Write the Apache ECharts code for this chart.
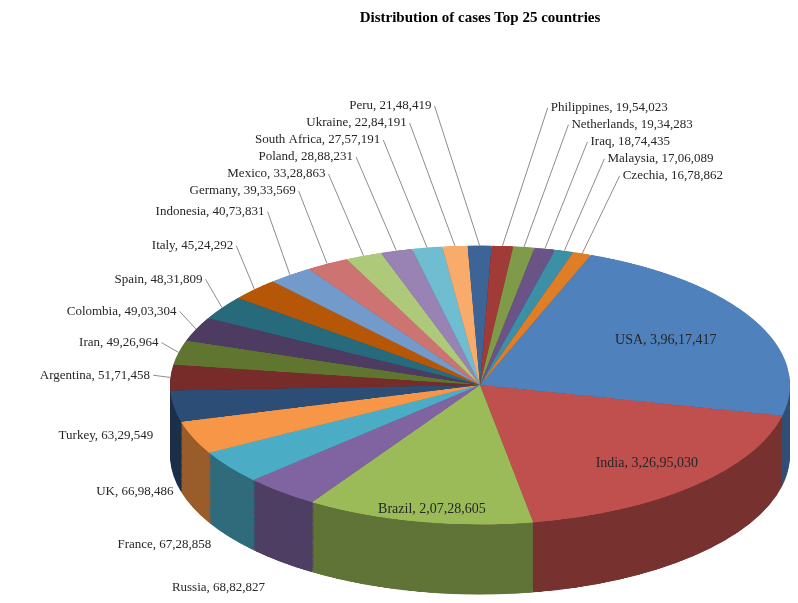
<!DOCTYPE html>
<html>
<head>
<meta charset="utf-8">
<script src="https://cdn.jsdelivr.net/npm/echarts@6/dist/echarts.min.js"></script>
<style>
  html, body { margin: 0; padding: 0; background: #fff; }
  #wrap { position: relative; width: 798px; height: 603px; overflow: hidden; }
  #body { position: absolute; left: 0; top: 0; width: 798px; height: 1340px; transform: scaleY(0.45); transform-origin: 0 0; }
  #labels { position: absolute; left: 0; top: 0; width: 798px; height: 603px; }
</style>
</head>
<body>
<div id="wrap">
  <div id="body"></div>
  <div id="labels"></div>
</div>
<script>
const countries = ["USA", "India", "Brazil", "Russia", "France", "UK", "Turkey", "Argentina", "Iran", "Colombia",
  "Spain", "Italy", "Indonesia", "Germany", "Mexico", "Poland", "South Africa", "Ukraine", "Peru", "Philippines",
  "Netherlands", "Iraq", "Malaysia", "Czechia"];
const cases = [39617417, 32695030, 20728605, 6882827, 6728858, 6698486, 6329549, 5171458, 4926964, 4903304,
  4831809, 4524292, 4073831, 3933569, 3328863, 2888231, 2757191, 2284191, 2148419, 1954023,
  1934283, 1874435, 1706089, 1678862];
const colors = ["#4F81BD", "#C0504D", "#9BBB59", "#8064A2", "#4BACC6", "#F79646", "#2C4D75", "#772C2A", "#5F7530", "#4D3B62",
  "#276A7C", "#B65708", "#729ACA", "#CD7371", "#AFC97A", "#9983B5", "#6FBDD1", "#F9AB6B", "#3C6496", "#A03B38",
  "#7F9A48", "#6A5386", "#3B8FA6", "#E07D27"];

// geometry of the tilted pie (screen px)
const scaleY = 0.45;
const cx = 480, cy = 385, rx = 310, ry = rx * scaleY, depth = 70;
const startAngle = 69;

function shade(hex, f) {
    var n = parseInt(hex.slice(1), 16);
    var r = Math.round(((n >> 16) & 255) * f), g = Math.round(((n >> 8) & 255) * f), b = Math.round((n & 255) * f);
    return "rgb(" + r + "," + g + "," + b + ")";
}

function indian(n) {
    var s = String(n);
    var last3 = s.slice(-3), rest = s.slice(0, -3);
    if (!rest) return last3;
    return rest.replace(/\B(?=(\d{2})+(?!\d))/g, ",") + "," + last3;
}

// ---- pie body: stacked pies in a vertically squashed div
var bodyChart = echarts.init(document.getElementById("body"));
var series = [];
var bodyCy = cy / scaleY, bodyDepth = depth / scaleY;
for (let off = bodyDepth; off >= 0; off -= 4) {
    let top = off === 0;
    series.push({
        type: "pie",
        center: [cx, bodyCy + off],
        radius: rx,
        startAngle: startAngle,
        silent: true,
        animation: false,
        label: { show: false },
        labelLine: { show: false },
        itemStyle: { borderWidth: 0 },
        data: countries.map(function (c, i) {
            return { name: c, value: cases[i], itemStyle: { color: top ? colors[i] : shade(colors[i], 0.62) } };
        }),
    });
    if (off > 0 && off < 4) off = 4;
}
bodyChart.setOption({ animation: false, series: series });

// ---- labels
var total = cases.reduce(function (a, b) { return a + b; }, 0);
var elements = [];
var outside = [];
var cum = 0;
for (let i = 0; i < cases.length; ++i) {
    let mid = (startAngle - (cum + cases[i] / 2) / total * 360) * Math.PI / 180;
    cum += cases[i];
    let c = Math.cos(mid), s = Math.sin(mid);
    let text = countries[i] + ", " + indian(cases[i]);
    if (i < 3) {
        let f = i === 0 ? 0.68 : 0.78;
        elements.push({
            type: "text", x: cx + rx * f * c, y: cy - ry * f * s + (i === 2 ? 18 : 0),
            style: { text: text, font: '14px "Liberation Serif"', fill: "#262626", align: "center", verticalAlign: "middle" },
        });
        continue;
    }
    let f = 1.3 + 0.7 * Math.pow(Math.max(0, s), 4);
    let side = c >= 0 ? 1 : -1;
    let ly = cy - ry * s * f + (s < 0 ? depth * (-s) + 12 : 0);
    let lx = cx + rx * c * 1.04 + side * (8 + 40 * Math.pow(Math.max(0, s), 6));
    outside.push({ i: i, text: text, side: side, x: lx, y: ly, ex: cx + rx * c, ey: cy - ry * s, front: s < 0 });
}
// push apart overlapping labels on each side
[1, -1].forEach(function (side) {
    var list = outside.filter(function (o) { return o.side === side; }).sort(function (a, b) { return a.y - b.y; });
    for (let k = 1; k < list.length; ++k) {
        if (list[k].y - list[k - 1].y < 17) list[k].y = list[k - 1].y + 17;
    }
});
outside.forEach(function (o) {
    elements.push({
        type: "text", x: o.x, y: Math.min(o.y, 588),
        style: { text: o.text, font: '13px "Liberation Serif"', fill: "#262626",
            align: o.side > 0 ? "left" : "right", verticalAlign: "middle" },
    });
    if (!o.front) {
        elements.push({
            type: "polyline",
            shape: { points: [[o.x - o.side * 3, o.y], [o.ex, o.ey]] },
            style: { stroke: "#8c8c8c", lineWidth: 1, fill: null },
        });
    }
});
elements.push({
    type: "text", x: 480, y: 18,
    style: { text: "Distribution of cases Top 25 countries", font: 'bold 15px "Liberation Serif"', fill: "#000",
        align: "center", verticalAlign: "middle" },
});

var labelChart = echarts.init(document.getElementById("labels"));
labelChart.setOption({ animation: false, graphic: { elements: elements } });
</script>
</body>
</html>
